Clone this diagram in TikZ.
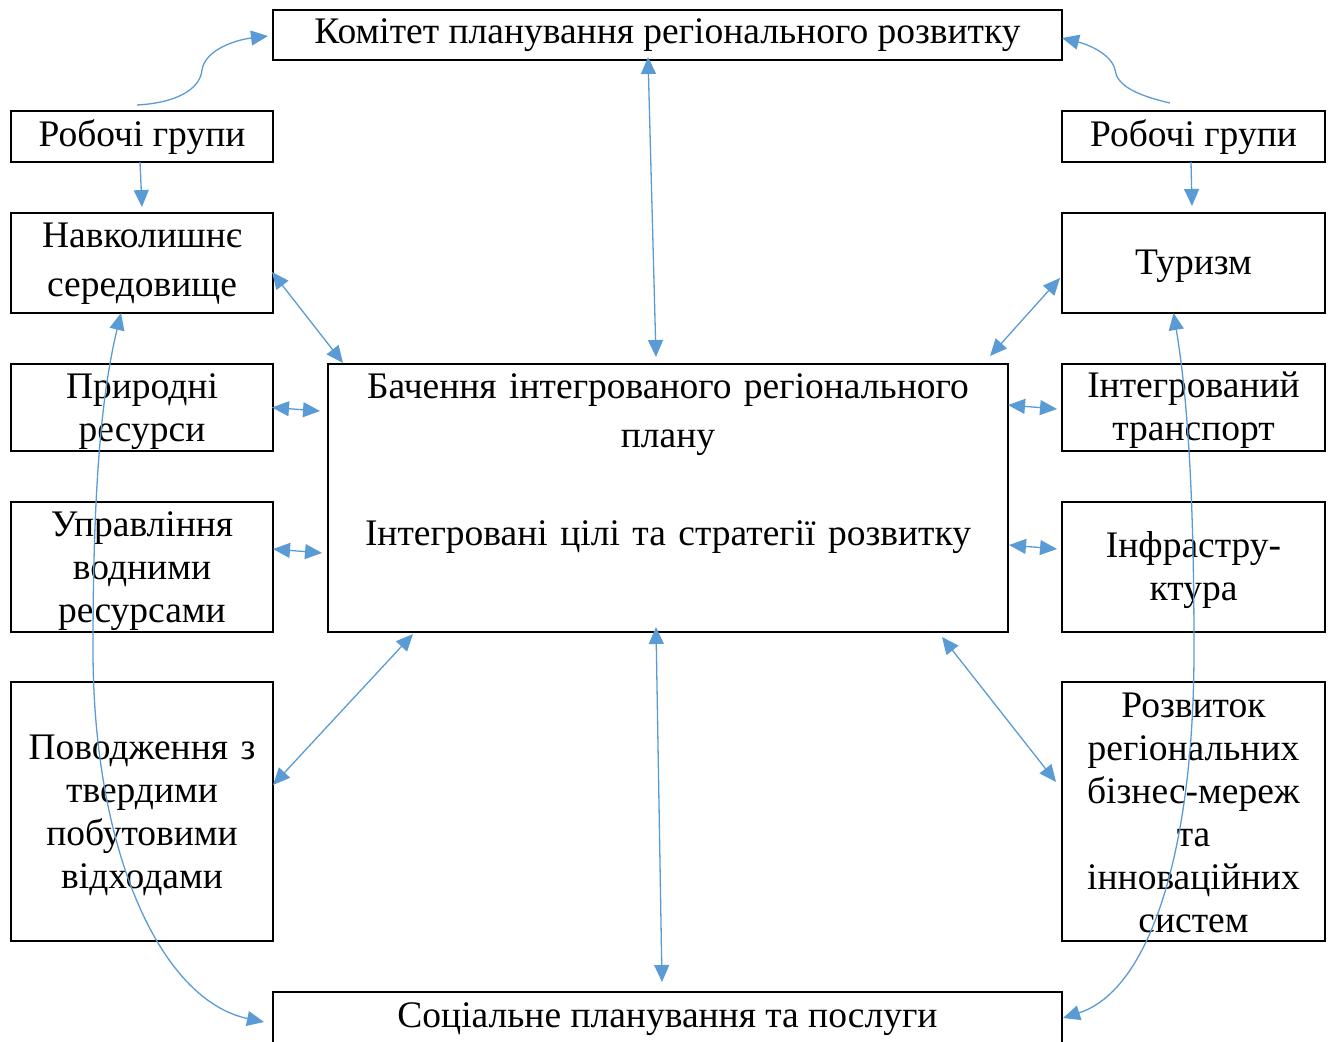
\documentclass[tikz,border=0pt]{standalone}
\usepackage{fontspec}
\setmainfont{Liberation Serif}
\usetikzlibrary{arrows.meta,calc}
\definecolor{arrblue}{HTML}{5B9BD5}
\begin{document}
\begin{tikzpicture}[x=1pt,y=-1pt,
  box/.style={draw=black,line width=1.8pt,rectangle,inner sep=0pt,outer sep=0pt},
  lbl/.style={inner sep=0pt,outer sep=0pt,font=\fontsize{37.5}{43}\selectfont,anchor=base},
  mlbl/.style={lbl,align=center,text width=#1},
  conn/.style={draw=arrblue,line width=1.3pt,{Triangle[length=17pt,width=15pt]}-{Triangle[length=17pt,width=15pt]}},
  one/.style={draw=arrblue,line width=1.3pt,-{Triangle[length=17pt,width=15pt]}}]
\useasboundingbox (0,0) rectangle (1332,1041);
% boxes
\node[box,minimum width=789pt,minimum height=50pt] (kom) at (667.5,35) {};
\node[box,minimum width=262pt,minimum height=51pt] (lrob) at (142,136.5) {};
\node[box,minimum width=262pt,minimum height=100pt] (nav) at (142,263) {};
\node[box,minimum width=262pt,minimum height=87pt] (prir) at (142,407.5) {};
\node[box,minimum width=262pt,minimum height=130pt] (upr) at (142,567) {};
\node[box,minimum width=262pt,minimum height=259pt] (pov) at (142,811.5) {};
\node[box,minimum width=680pt,minimum height=268pt] (cent) at (668,498) {};
\node[box,minimum width=263pt,minimum height=51pt] (rrob) at (1193.5,136.5) {};
\node[box,minimum width=263pt,minimum height=100pt] (tur) at (1193.5,263) {};
\node[box,minimum width=263pt,minimum height=87pt] (tra) at (1193.5,407.5) {};
\node[box,minimum width=263pt,minimum height=130pt] (inf) at (1193.5,567) {};
\node[box,minimum width=263pt,minimum height=259pt] (roz) at (1193.5,811.5) {};
\node[box,minimum width=789pt,minimum height=100pt] (soc) at (667.5,1042) {};
% labels
\node[lbl] (tkom) at (667.5,44) {Комітет планування регіонального розвитку};
\node[lbl] (tlrob) at (142,146) {Робочі групи};
\node[mlbl=262pt,font=\fontsize{37.5}{49}\selectfont] (tnav) at (142,247) {Навколишнє\\середовище};
\node[mlbl=262pt] (tprir) at (142,398) {Природні\\ресурси};
\node[mlbl=262pt] (tupr) at (142,536) {Управління\\водними\\ресурсами};
\node[mlbl=262pt] (tpov) at (142,759) {Поводження з\\твердими\\побутовими\\відходами};
\node[mlbl=680pt,font=\fontsize{37.5}{49}\selectfont] (tcent) at (668,398) {Бачення інтегрованого регіонального\\плану\\[49pt]Інтегровані цілі та стратегії розвитку};
\node[lbl] (trrob) at (1193.5,146) {Робочі групи};
\node[lbl] (ttur) at (1193.5,274) {Туризм};
\node[mlbl=263pt] (ttra) at (1193.5,397) {Інтегрований\\транспорт};
\node[mlbl=263pt] (tinf) at (1193.5,557) {Інфрастру-\\ктура};
\node[mlbl=263pt] (troz) at (1193.5,717) {Розвиток\\регіональних\\бізнес-мереж\\та\\інноваційних\\систем};
\node[lbl] (tsoc) at (667.5,1027) {Соціальне планування та послуги};
% straight connectors
\draw[one] ($(lrob.south)+(-2,0)$) -- ($(nav.north)+(0,-6)$);
\draw[one] ($(rrob.south)+(-2.5,0)$) -- ($(tur.north)+(-1.5,-7)$);
\draw[conn] ($(kom.south)+(-19.5,-3)$) -- ($(cent.north)+(-12,-7)$);
\draw[conn] ($(nav.east)+(-1,9)$) -- ($(cent.north west)+(15,-1)$);
\draw[conn] ($(prir.east)+(-1,0)$) -- ($(cent.west)+(-8,-87)$);
\draw[conn] ($(upr.east)+(0,-18)$) -- ($(cent.west)+(-6,55)$);
\draw[conn] ($(pov.east)+(0,-26.5)$) -- ($(cent.south west)+(85,2)$);
\draw[conn] ($(cent.north east)+(-18,-8)$) -- ($(tur.west)+(-2,15)$);
\draw[conn] ($(cent.east)+(0,-93)$) -- ($(tra.west)+(-5,1.5)$);
\draw[conn] ($(cent.east)+(1,47)$) -- ($(inf.west)+(-5,-18)$);
\draw[conn] ($(cent.south east)+(-66,5)$) -- ($(roz.west)+(-6,-29.5)$);
\draw[conn] ($(cent.south)+(-12,-5)$) -- ($(soc.north)+(-5.5,-10)$);
% curved connectors
\coordinate (lstart) at ($(lrob.north)+(-5,-6)$);
\coordinate (rstart) at ($(rrob.north)+(-23.5,-8)$);
\draw[one] (lstart) .. controls (175,103) and (200,90) .. (202,70) .. controls (205,50) and (235,40) .. ($(kom.west)+(-5,1)$);
\draw[one] (rstart) .. controls (1135,95) and (1117,85) .. (1115,70) .. controls (1112,55) and (1090,45) .. ($(kom.east)+(0,3)$);
\draw[conn] ($(nav.south)+(-21,0)$) .. controls (100,400) and (93,500) .. (93,650) .. controls (93,850) and (160,1000) .. ($(soc.west)+(-9,-20)$);
\draw[conn] ($(tur.south)+(-20,0)$) .. controls (1188,400) and (1194,500) .. (1194,650) .. controls (1194,850) and (1150,990) .. ($(soc.east)+(1,-24)$);
\end{tikzpicture}
\end{document}
